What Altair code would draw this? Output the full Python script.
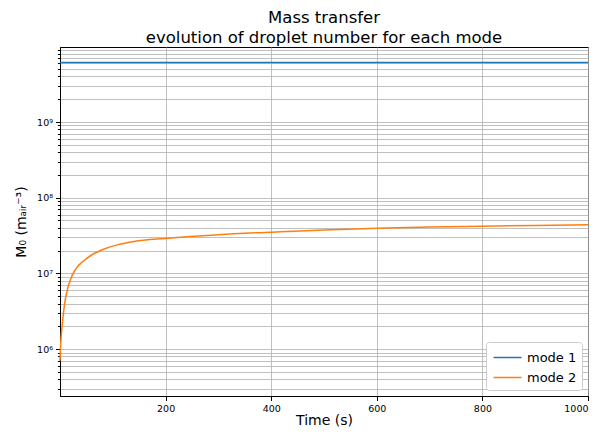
import altair as alt
import pandas as pd

# ---- data ----
mode1_t = [0, 1000]
mode1_v = [6.1e9, 6.1e9]

mode2_t = [0, 2, 4, 7, 10, 15, 20, 30, 45, 60, 80, 110, 140, 200, 300, 400, 500, 600, 700, 800, 900, 1000]
mode2_v = [7.0e5, 1.4e6, 2.0e6, 3.2e6, 4.5e6, 6.5e6, 8.4e6, 1.15e7, 1.47e7, 1.75e7, 2.05e7, 2.4e7,
           2.64e7, 2.9e7, 3.25e7, 3.5e7, 3.75e7, 3.95e7, 4.1e7, 4.2e7, 4.3e7, 4.4e7]

series_names = ["mode 1", "mode 2"]
series_colors = ["#1f77b4", "#ff7f0e"]

x_ticks = [200, 400, 600, 800, 1000]
y_ticks = [m * 10 ** e for e in range(5, 10) for m in range(1, 10)]
y_ticks = [v for v in y_ticks if 2.4e5 <= v <= 9.8e9]

df = pd.concat([
    pd.DataFrame({"t": mode1_t, "v": mode1_v, "mode": series_names[0]}),
    pd.DataFrame({"t": mode2_t, "v": mode2_v, "mode": series_names[1]}),
])

is_decade = "abs(log(datum.value)/LN10 - round(log(datum.value)/LN10)) < 1e-6"
sup = "['⁰','¹','²','³','⁴','⁵','⁶','⁷','⁸','⁹','¹⁰']"

chart = alt.Chart(df).mark_line(strokeWidth=1.5, interpolate="monotone").encode(
    x=alt.X("t:Q", scale=alt.Scale(domain=[0, 1000], nice=False, zero=False),
            axis=alt.Axis(title="Time (s)", values=x_ticks, format="d",
                          labelFlush=True, labelFlushOffset=0,
                          grid=True, tickSize=4.5, labelPadding=3,
                          titleBaseline="alphabetic", titleY=28.5)),
    y=alt.Y("v:Q", scale=alt.Scale(type="log", domain=[2.4e5, 9.8e9], nice=False),
            axis=alt.Axis(title="M₀ (mₐᵢᵣ⁻³)", values=y_ticks, grid=True,
                          labelExpr=f"{is_decade} ? '10' + {sup}[round(log(datum.value)/LN10)] : ''",
                          tickSize=alt.ExprRef(expr=f"{is_decade} ? 4.5 : 2.6"),
                          labelPadding=3, titlePadding=8)),
    color=alt.Color("mode:N", scale=alt.Scale(domain=series_names, range=series_colors),
                    legend=alt.Legend(title=None, orient="bottom-right", offset=6,
                                      symbolType="M-1.47,0H1.47", symbolSize=361,
                                      symbolStrokeWidth=1.5, symbolOffset=6, labelOffset=9,
                                      labelFontSize=13, rowPadding=2, padding=5,
                                      fillColor="white", strokeColor="#cccccc", cornerRadius=3)),
    order=alt.Order("mode:N"),
).properties(
    width=528, height=349,
    padding={"left": 52, "top": 39, "right": 5, "bottom": 32},
    autosize=alt.AutoSizeParams(type="none"),
    title=alt.TitleParams(text=["Mass transfer", "evolution of droplet number for each mode"],
                          fontSize=16.5, fontWeight="normal", font="DejaVu Sans", color="black",
                          anchor="middle", offset=1, lineHeight=20),
).configure_view(stroke="black", strokeWidth=1).configure_axis(
    labelFont="DejaVu Sans", titleFont="DejaVu Sans", labelFontSize=9.5, titleFontSize=14,
    titleFontWeight="normal", labelColor="black", titleColor="black",
    domainColor="black", tickColor="black", gridColor="#b0b0b0", gridWidth=0.8,
).configure_legend(labelFont="DejaVu Sans", labelColor="black")

chart.save("out.html", embed_options={"renderer": "svg", "actions": False})
